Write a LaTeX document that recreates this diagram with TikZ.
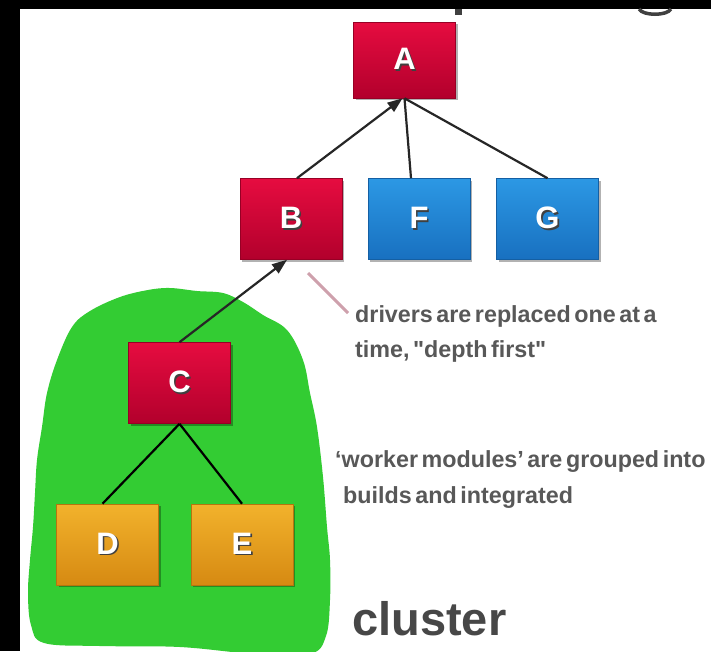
\documentclass[tikz,border=0pt]{standalone}
\usepackage{fontspec}
\setmainfont{Liberation Sans}
\newfontfamily\notefont{Liberation Sans}[WordSpace=0.55]
\usetikzlibrary{arrows.meta,shadows,calc}

\definecolor{redtop}{RGB}{230,12,64}
\definecolor{redbot}{RGB}{178,0,44}
\definecolor{bluetop}{RGB}{44,152,228}
\definecolor{bluebot}{RGB}{24,112,192}
\definecolor{oratop}{RGB}{242,178,44}
\definecolor{orabot}{RGB}{214,138,18}
\definecolor{blobgreen}{RGB}{51,204,51}
\definecolor{notegray}{RGB}{88,88,88}
\definecolor{leader}{RGB}{206,160,172}

% white letter with a dark offset copy behind it
\newcommand\boxlabel[1]{\leavevmode\rlap{\kern1.6pt\raisebox{-1.6pt}{\textcolor{black!75}{#1}}}#1}

\tikzset{
  box/.style={rectangle, minimum width=102pt, minimum height=81pt, inner sep=0pt,
    text=white, font=\fontsize{31}{31}\bfseries\selectfont,
    drop shadow={shadow xshift=2pt, shadow yshift=-2pt, opacity=0.3, fill=black}},
  redbox/.style={box, top color=redtop, bottom color=redbot, draw=redbot!85!black, line width=0.6pt},
  bluebox/.style={box, top color=bluetop, bottom color=bluebot, draw=bluebot!85!black, line width=0.6pt},
  orangebox/.style={box, top color=oratop, bottom color=orabot, draw=orabot!85!black, line width=0.6pt},
  link/.style={draw=black!85, line width=2.2pt},
  tip/.style={-{Triangle[length=15pt,width=11pt]}},
  note/.style={anchor=base west, inner sep=0pt, text=notegray,
    font=\notefont\fontsize{23.3}{27}\bfseries\selectfont},
}

\begin{document}
\begin{tikzpicture}[x=1pt, y=-1pt]
  \useasboundingbox (0,0) rectangle (711,651);
  \fill[black] (0,0) rectangle (711,651);
  \fill[white] (20,9) rectangle (711,651);

  % bottoms of the heading letters below the top band
  \fill[black!75] (455,9) rectangle (462,15);
  \draw[black!75, line width=3.5pt] (639,9) .. controls (643,16) and (667,16) .. (671,9);

  % cluster region
  \begin{scope}
    \clip (20,9) rectangle (711,651);
    \fill[blobgreen] plot[smooth cycle, tension=0.6] coordinates {
      (72,327) (57,360) (47,393) (42,427) (37,460) (35,493) (33,527) (30,560)
      (28,593) (31,625) (44,643) (100,646) (180,647) (255,654) (310,654)
      (326,636) (330,600) (330,560) (327,527) (323,477) (317,427) (310,393)
      (303,360) (287,330) (263,315) (243,302) (223,293) (197,291) (170,288)
      (148,290) (120,297) (90,311)};
  \end{scope}

  % modules
  \node[redbox, minimum height=76pt] (A) at (404.5,60) {\boxlabel{A}};
  \node[redbox] (B) at (291,219) {\boxlabel{B}};
  \node[bluebox] (F) at (419,219) {\boxlabel{F}};
  \node[bluebox] (G) at (547.5,219) {\boxlabel{G}};
  \node[redbox] (C) at (179.5,383) {\boxlabel{C}};
  \node[orangebox] (D) at (107.5,544.5) {\boxlabel{D}};
  \node[orangebox] (E) at (242,544.5) {\boxlabel{E}};

  % connections
  \draw[link, tip] ($(B.north)+(6,0)$) -- ($(A.south)+(-2,0)$);
  \draw[link] ($(F.north)+(-8,0)$) -- (A.south);
  \draw[link] (G.north) -- (A.south);
  \draw[link, tip] (C.north) -- ($(B.south)+(-4,0)$);
  \draw[link, draw=black] (C.south) -- ($(D.north)+(-5,0)$);
  \draw[link, draw=black] (C.south) -- (E.north);

  % notes
  \coordinate (lead1) at (308,273);
  \coordinate (lead2) at (348,313);
  \draw[leader, line width=3pt] (lead1) -- (lead2);
  \node[note] (n1) at (355,322) {drivers are replaced one at a};
  \node[note] (n2) at (355,357) {time, "depth first"};
  \node[note] (n3) at (335,467) {‘worker modules’ are grouped into};
  \node[note] (n4) at (343,503) {builds and integrated};
  \node[anchor=base west, inner sep=0pt, text=black!72,
        font=\fontsize{47}{50}\bfseries\selectfont] (cl) at (352,635) {cluster};
\end{tikzpicture}
\end{document}
